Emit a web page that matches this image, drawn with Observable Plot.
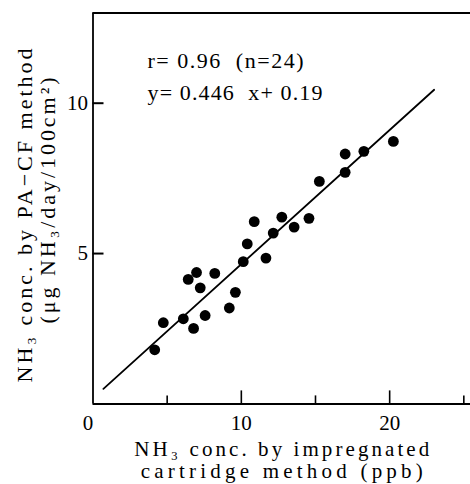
<!DOCTYPE html>
<html><head><meta charset="utf-8">
<script src="https://cdn.jsdelivr.net/npm/d3@7"></script>
<script src="https://cdn.jsdelivr.net/npm/@observablehq/plot@0.6"></script>
<style>
body{margin:0;background:#fff}
#chart svg{display:block;font-family:"Liberation Serif",serif !important;background:#fff}
#chart svg text, #chart svg g{font-family:"Liberation Serif",serif}
</style>
</head><body><div id="chart"></div>
<script>
// ---- data ----
const xValues = [4.16, 4.74, 6.09, 6.42, 6.98, 6.78, 7.23, 7.56, 8.21, 9.19, 9.60, 10.13, 10.40, 10.87, 11.66, 12.15, 12.73, 13.56, 14.56, 15.26, 17.00, 17.00, 18.26, 20.25];
const yValues = [1.80, 2.70, 2.83, 4.14, 4.37, 2.51, 3.86, 2.94, 4.34, 3.19, 3.71, 4.73, 5.32, 6.06, 4.85, 5.68, 6.21, 5.88, 6.17, 7.40, 8.31, 7.70, 8.40, 8.73];
const slope = 0.446;
const intercept = 0.19;
const fitRange = [0.7, 23];
const xDomain = [0, 25.45];
const yDomain = [0, 13];
const xZeroLabel = [0];
const xLabelTicks = [10, 20];
const xMajorTicks = [10, 20];
const xMinorTicks = [5, 15, 25];
const yTicks = [5, 10];
const statLines = ["r= 0.96  (n=24)", "y= 0.446  x+ 0.19"];
const xTitle = ["NH₃ conc. by impregnated", "cartridge method (ppb)"];
const yTitle = ["NH₃ conc. by PA−CF method", "(μg NH₃/day/100cm²)"];

const points = xValues.map((x, i) => ({x, y: yValues[i]}));
const fitLine = fitRange.map(x => ({x, y: slope * x + intercept}));

// layout: target rendered text widths (px)
const textWidths = new Map([
  [statLines[0], 156], [statLines[1], 175],
  [xTitle[0], 295], [xTitle[1], 282],
  [yTitle[0], 334], [yTitle[1], 246]
]);

const svg = Plot.plot({
  width: 470, height: 484,
  marginLeft: 92.5, marginRight: 0, marginTop: 12.5, marginBottom: 80.6,
  x: {domain: xDomain},
  y: {domain: yDomain},
  style: "font-family: 'Liberation Serif', serif; font-size: 20px; color: #000; background: #fff;",
  marks: [
    Plot.ruleX([xDomain[0]], {strokeWidth: 1.8}),
    Plot.ruleY([yDomain[0]], {strokeWidth: 2}),
    Plot.ruleY([yDomain[1]], {strokeWidth: 2.2}),
    Plot.axisY(yTicks, {tickSize: -11, tickFormat: () => "", label: null, strokeWidth: 2}),
    Plot.axisY(yTicks, {tickSize: 0, tickPadding: 5, label: null, fontSize: 21}),
    Plot.axisX(xMajorTicks, {tickSize: -13, tickFormat: () => "", label: null, strokeWidth: 1.6}),
    Plot.axisX(xMinorTicks, {tickSize: -8, tickFormat: () => "", label: null, strokeWidth: 1.6}),
    Plot.axisX(xLabelTicks, {tickSize: 0, tickPadding: 11, label: null, fontSize: 21}),
    Plot.axisX(xZeroLabel, {tickSize: 0, tickPadding: 11, label: null, fontSize: 21, dx: -5}),
    Plot.line(fitLine, {x: "x", y: "y", strokeWidth: 1.8, stroke: "#000"}),
    Plot.dot(points, {x: "x", y: "y", r: 5.4, fill: "#000", stroke: "none"}),
    Plot.text([statLines[0]], {text: d => d, frameAnchor: "top-left", textAnchor: "start", lineAnchor: "bottom", dx: 54.5, dy: 54.5, fontSize: 22}),
    Plot.text([statLines[1]], {text: d => d, frameAnchor: "top-left", textAnchor: "start", lineAnchor: "bottom", dx: 54.5, dy: 86.5, fontSize: 22}),
    Plot.text([xTitle[0]], {text: d => d, frameAnchor: "bottom", textAnchor: "middle", lineAnchor: "bottom", dy: 52, fontSize: 21}),
    Plot.text([xTitle[1]], {text: d => d, frameAnchor: "bottom", textAnchor: "middle", lineAnchor: "bottom", dy: 74, fontSize: 21}),
    Plot.text([yTitle[0]], {text: d => d, frameAnchor: "left", textAnchor: "middle", lineAnchor: "middle", rotate: -90, dx: -68.5, dy: 7, fontSize: 22}),
    Plot.text([yTitle[1]], {text: d => d, frameAnchor: "left", textAnchor: "middle", lineAnchor: "middle", rotate: -90, dx: -45.5, dy: -8, fontSize: 22})
  ]
});

d3.select(svg).selectAll("text").each(function() {
  const w = textWidths.get(this.textContent);
  if (w) { this.setAttribute("textLength", w); this.setAttribute("lengthAdjust", "spacing"); }
});

document.getElementById("chart").appendChild(svg);
</script>
</body></html>
